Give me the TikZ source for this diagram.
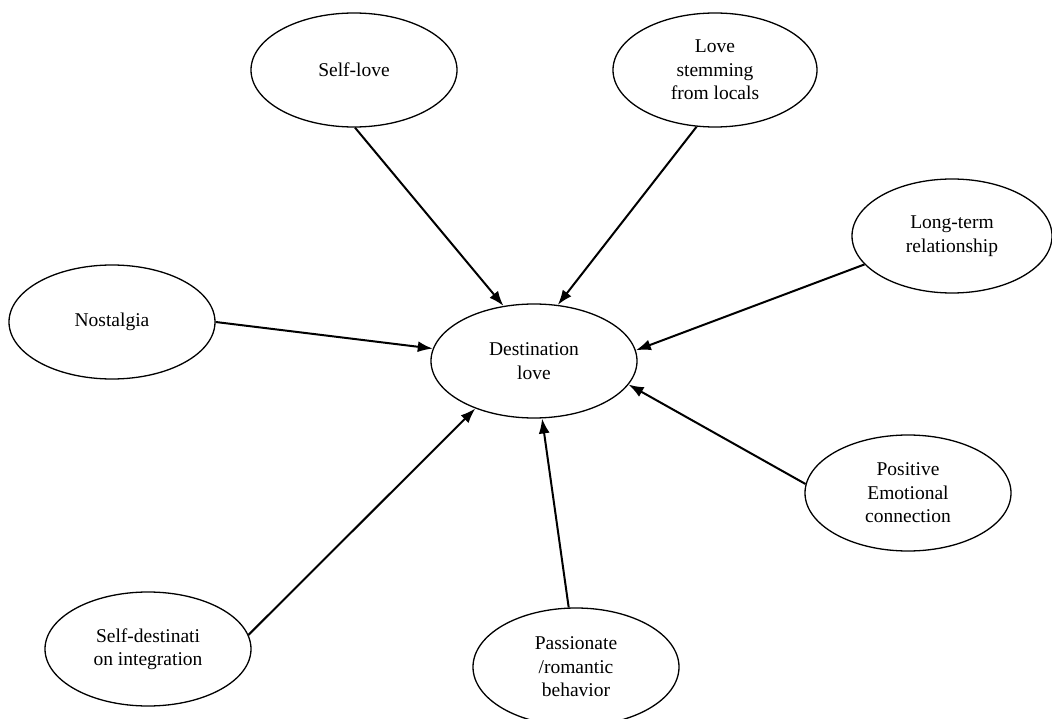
\documentclass[tikz,border=0pt]{standalone}
\usepackage{fontspec}
\setmainfont{Liberation Serif}
\usetikzlibrary{shapes.geometric,arrows.meta}

\tikzset{
  concept/.style={ellipse, draw=black, line width=1.3pt, inner sep=0pt,
    minimum width=206pt, minimum height=114pt, align=center,
    font=\fontsize{19.5}{23.5}\selectfont},
  arr/.style={line width=2pt, -{Latex[length=15pt,width=11pt]}}
}

\begin{document}
\begin{tikzpicture}[x=1pt,y=-1pt]
  \useasboundingbox (0,0) rectangle (1052,719);

  % factors around the central concept
  \node[concept] (dest) at (534,361) {Destination\\love};
  \node[concept] (self) at (354,70) {Self-love};
  \node[concept, minimum width=204pt] (locals) at (715,70) {Love\\stemming\\from locals};
  \node[concept, minimum width=200pt] (longterm) at (952,236) {Long-term\\relationship};
  \node[concept] (nost) at (112,322) {Nostalgia};
  \node[concept, minimum height=116pt] (pos) at (908,493) {Positive\\Emotional\\connection};
  \node[concept] (integ) at (148,649) {Self-destinati\\on integration};
  \node[concept, minimum height=118pt] (pass) at (576,667) {Passionate\\/romantic\\behavior};

  % influences pointing at destination love
  \draw[arr] (self.-89) -- (dest.119.7);
  \draw[arr] (locals.252.5) -- (dest.67.7);
  \draw[arr] (longterm.198.6) -- (dest.6.6);
  \draw[arr] (nost.0) -- (dest.173.4);
  \draw[arr] (pos.175.6) -- (dest.-14.6);
  \draw[arr] (integ.8.9) -- (dest.219.9);
  \draw[arr] (pass.97.6) -- (dest.278.7);
\end{tikzpicture}
\end{document}
